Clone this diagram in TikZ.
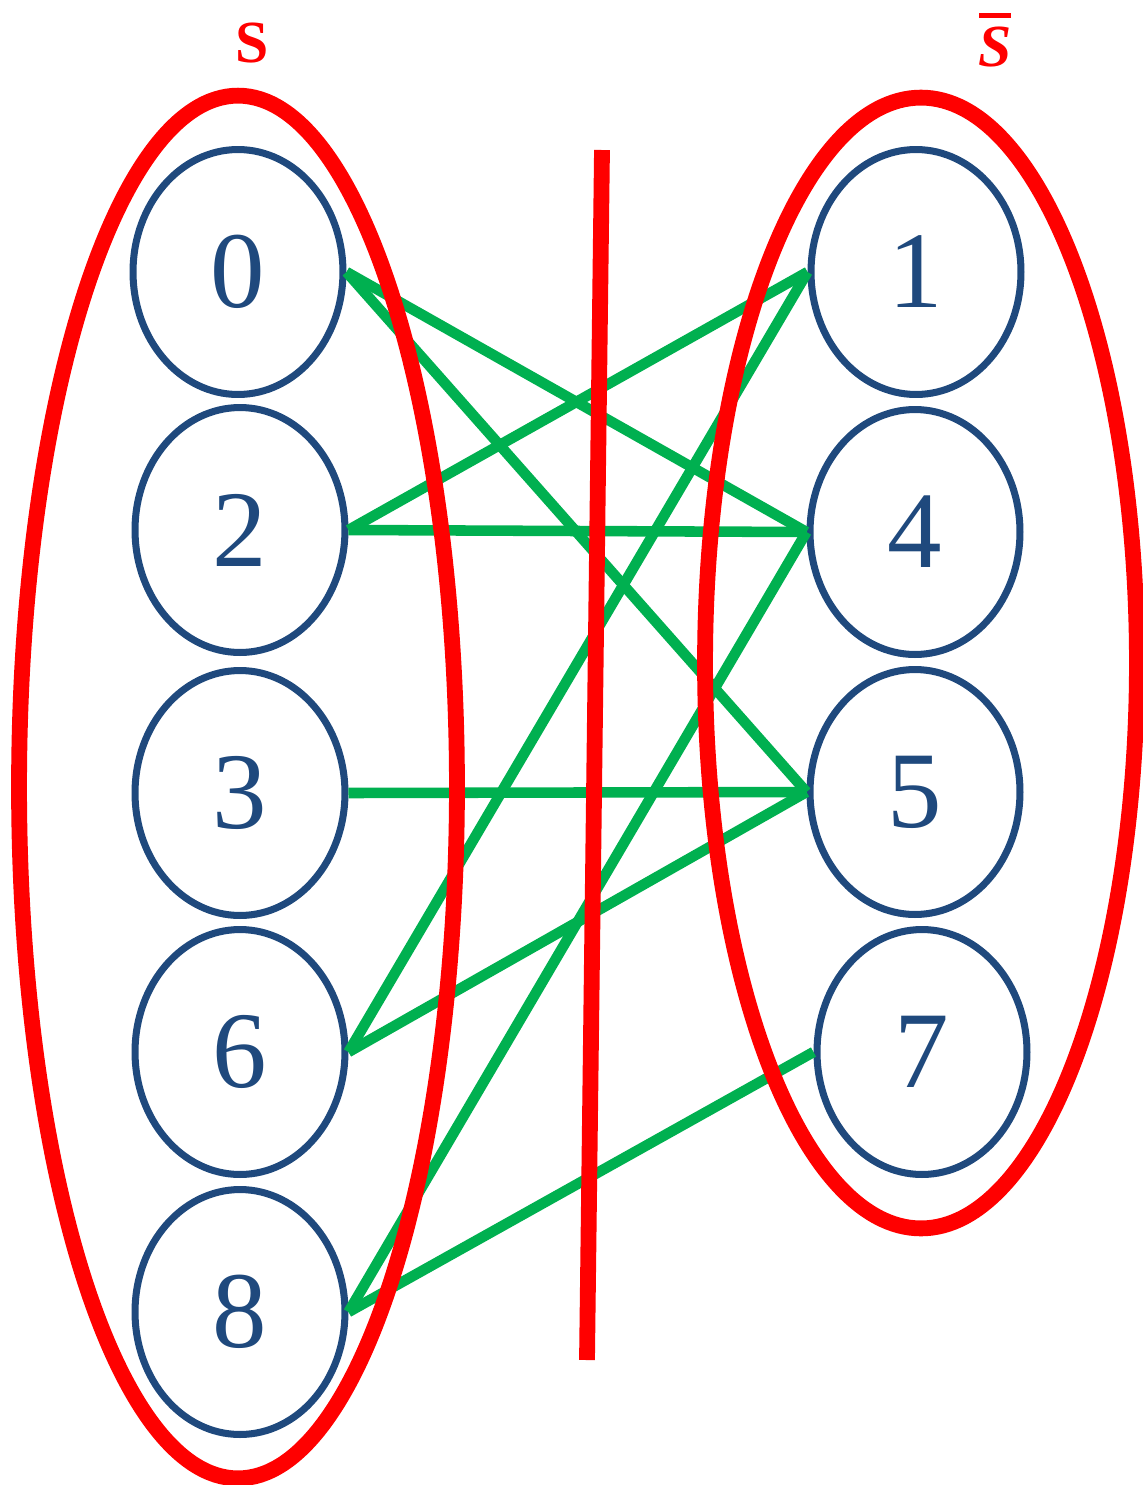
\documentclass[tikz,border=0pt]{standalone}
\usepackage{fontspec}
\setmainfont{Liberation Serif}
\usepackage{xcolor}
\usetikzlibrary{shapes.geometric}
\definecolor{CutRed}{RGB}{255,0,0}
\definecolor{NodeBlue}{RGB}{31,73,125}
\definecolor{EdgeGreen}{RGB}{0,176,80}

\begin{document}
\begin{tikzpicture}[x=0.02cm, y=-0.02cm,
          vx/.style={ellipse, draw=NodeBlue, line width=4pt, inner sep=0pt,
                     minimum width=4.2cm, minimum height=4.9cm, text=NodeBlue,
                     font=\fontsize{62}{64}\selectfont},
          ed/.style={draw=EdgeGreen, line width=6pt},
          setring/.style={ellipse, draw=CutRed, line width=9pt, inner sep=0pt},
          setlab/.style={text=CutRed, font=\fontsize{34}{36}\selectfont\bfseries}
        ]
        \useasboundingbox (0,0) rectangle (1143,1485);

        % left side
        \node[vx] (v0) at (238, 272)  {0};
        \node[vx] (v2) at (240, 530)  {2};
        \node[vx] (v3) at (240, 793)  {3};
        \node[vx] (v6) at (240, 1052) {6};
        \node[vx] (v8) at (240, 1312) {8};

        % right side
        \node[vx] (v1) at (916, 272)  {1};
        \node[vx] (v4) at (915, 532)  {4};
        \node[vx] (v5) at (915, 792)  {5};
        \node[vx] (v7) at (922, 1052) {7};

        \draw[ed] (v0.east) -- (v4.west);
        \draw[ed] (v0.east) -- (v5.west);
        \draw[ed] (v2.east) -- (v1.west);
        \draw[ed] (v2.east) -- (v4.west);
        \draw[ed] (v3.east) -- (v5.west);
        \draw[ed] (v6.east) -- (v1.west);
        \draw[ed] (v6.east) -- (v5.west);
        \draw[ed] (v8.east) -- (v4.west);
        \draw[ed] (v8.east) -- (v7.west);

        % the two sets and the cut
        \node[setring, minimum width=8.76cm, minimum height=27.66cm] (setS)  at (238, 787) {};
        \node[setring, minimum width=8.64cm, minimum height=22.62cm] (setSb) at (921, 663) {};

        \coordinate (cutT) at (602, 150);
        \coordinate (cutB) at (587, 1360);
        \draw[CutRed, line width=9pt] (cutT) -- (cutB);

        \node[setlab] (labS)  at (252, 43) {S};
        \node[setlab] (labSb) at (995, 40)
              {\vbox{\hrule height 3pt width 0.64cm \kern 5pt \hbox to 0.64cm{\hss\textit{S}\hss}}};
      \end{tikzpicture}
\end{document}
